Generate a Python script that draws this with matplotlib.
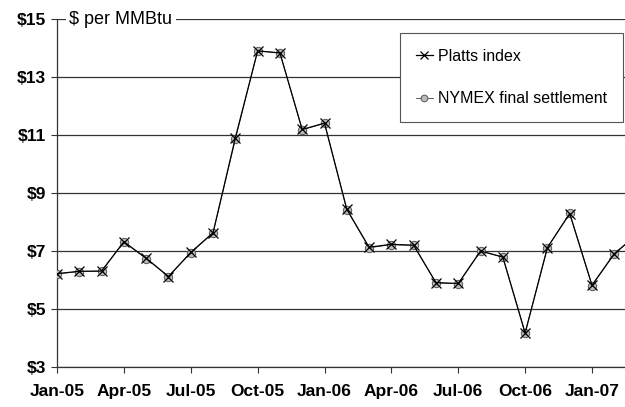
import matplotlib
matplotlib.use("Agg")
import matplotlib.pyplot as plt

months = ["Jan-05","Feb-05","Mar-05","Apr-05","May-05","Jun-05","Jul-05","Aug-05","Sep-05",
          "Oct-05","Nov-05","Dec-05","Jan-06","Feb-06","Mar-06","Apr-06","May-06","Jun-06",
          "Jul-06","Aug-06","Sep-06","Oct-06","Nov-06","Dec-06","Jan-07","Feb-07","Mar-07"]
platts = [6.22, 6.30, 6.31, 7.32, 6.75, 6.12, 6.95, 7.63, 10.90, 13.90, 13.83, 11.19, 11.41,
          8.44, 7.13, 7.23, 7.20, 5.91, 5.88, 7.00, 6.79, 4.17, 7.12, 8.29, 5.82, 6.91, 7.55]
nymex = [6.21, 6.29, 6.30, 7.31, 6.74, 6.12, 6.94, 7.62, 10.85, 13.90, 13.83, 11.18, 11.40,
         8.43, 7.11, 7.22, 7.19, 5.90, 5.87, 7.00, 6.79, 4.18, 7.12, 8.30, 5.81, 6.90, 7.55]
yticks = [3, 5, 7, 9, 11, 13, 15]
ytick_labels = ["$3", "$5", "$7", "$9", "$11", "$13", "$15"]
xtick_months = ["Jan-05","Apr-05","Jul-05","Oct-05","Jan-06","Apr-06","Jul-06","Oct-06","Jan-07"]

plt.rcParams['font.family'] = ['Liberation Sans', 'DejaVu Sans']

fig = plt.figure(figsize=(6.25, 4.07), dpi=100)
ax = fig.add_axes([57/625, 1-367/407, 1-57/625, (367-19)/407])

x = list(range(len(months)))
ax.plot(x, platts, color='black', lw=0.9, marker='x', ms=7, mew=0.9,
        label='Platts index', zorder=4, clip_on=True)
ax.plot(x, nymex, color='#444444', lw=0.6, marker='o', ms=6, mfc='#bbbbbb',
        mec='#555555', mew=0.7, label='NYMEX final settlement', zorder=3)

ax.set_ylim(3, 15)
ax.set_xlim(0, 25.48)
ax.set_yticks(yticks)
ax.set_yticklabels(ytick_labels, fontsize=12.5, fontweight='bold')
xt = [months.index(m) for m in xtick_months]
ax.set_xticks(xt)
ax.set_xticklabels(xtick_months, fontsize=12.5, fontweight='bold')
ax.tick_params(axis='x', direction='out', length=4, width=0.8, pad=8, color='#333333')
ax.tick_params(axis='y', direction='out', length=4, width=0.8, pad=4, color='#333333')

for v in yticks:
    ax.axhline(v, color='#333333', lw=0.9, zorder=1)

for s in ['top', 'right']:
    ax.spines[s].set_visible(False)
ax.spines['left'].set_color('#333333')
ax.spines['left'].set_linewidth(0.9)
ax.spines['bottom'].set_color('#333333')
ax.spines['bottom'].set_linewidth(0.9)

ax.text(0.55, 15, "$ per MMBtu", fontsize=13, va='center', ha='left',
        bbox=dict(facecolor='white', edgecolor='none', pad=2.5), zorder=5)

leg = ax.legend(loc='upper right', bbox_to_anchor=((623-57)/568, 1 - (33-19)/348),
                bbox_transform=ax.transAxes, fontsize=11.5, frameon=True, fancybox=False,
                edgecolor='#555555', handlelength=1.1, handletextpad=0.3,
                labelspacing=1.7, borderpad=1.0, borderaxespad=0, framealpha=1,
                markerscale=0.8)
leg.get_frame().set_linewidth(0.8)
leg.set_zorder(6)

fig.savefig("out.png", dpi=100)
